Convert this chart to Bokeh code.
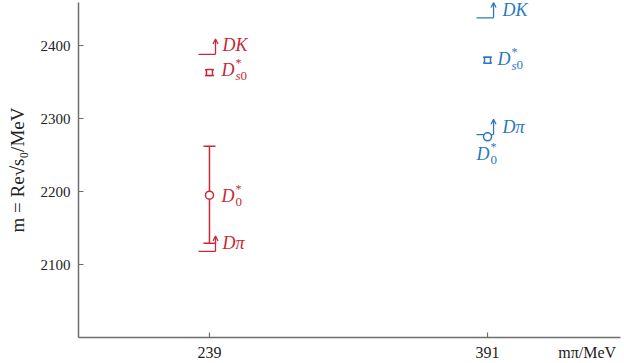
from bokeh.plotting import figure
from bokeh.models import (Range1d, FixedTicker, Whisker, TeeHead, Arrow,
                          OpenHead, ColumnDataSource)
from bokeh.core.properties import value
from bokeh.embed import file_html
from bokeh.resources import INLINE

# ---------------- data ----------------
m_pi = [239, 391]                      # MeV
colors = ["#c52a36", "#2b78be"]
d0_mass = [2195, 2275]
d0_lo = [2129, 2275]
d0_hi = [2262, 2275]
ds0_mass = [2363, 2380]
ds0_lo = [2359, 2376]
ds0_hi = [2367, 2384]
thr_Dpi = [2118, 2278]
thr_DK = [2388, 2438]
x_ticks = [239, 391]
y_ticks = [2100, 2200, 2300, 2400]
x_title = "mπ/MeV"
y_title = "m = Re√s₀/MeV"

FONT = "Liberation Serif"
AX = "#6e6e6e"
X0, X1 = 167.4, 463.7
Y0, Y1 = 2000, 2459
XTITLE_POS = 445.5        # where the x title sits along the bottom axis
TICK_LEN = 7.0            # inward tick length in data units

p = figure(width=624, height=363, x_range=Range1d(X0, X1),
           y_range=Range1d(Y0, Y1), output_backend="svg",
           toolbar_location=None, min_border_left=78, min_border_right=4,
           min_border_top=2, min_border_bottom=26)
p.outline_line_color = None
p.grid.grid_line_color = None
p.background_fill_color = "white"

for ax in (p.xaxis, p.yaxis):
    ax.axis_line_color = AX
    ax.axis_line_width = 1.5
    ax.major_tick_line_color = AX
    ax.major_tick_line_width = 1.2
    ax.major_tick_in = 5
    ax.major_tick_out = 0
    ax.minor_tick_line_color = None
    ax.major_label_text_font = FONT
    ax.major_label_text_font_size = "15px"
    ax.major_label_text_color = "#222222"

# x axis: tick labels plus the axis title placed at the right end
p.xaxis.ticker = FixedTicker(ticks=x_ticks + [XTITLE_POS])
p.xaxis.major_label_overrides = {XTITLE_POS: x_title}
p.xaxis.major_label_text_font_size = "16px"
p.xaxis.major_tick_line_color = None
p.xaxis.major_label_standoff = 6
p.segment(x0=x_ticks, y0=[Y0] * len(x_ticks), x1=x_ticks,
          y1=[Y0 + TICK_LEN] * len(x_ticks), line_color=AX, line_width=1.2)

p.yaxis.ticker = FixedTicker(ticks=y_ticks)
p.yaxis.major_label_standoff = 8
p.yaxis.axis_label = y_title
p.yaxis.axis_label_text_font = FONT
p.yaxis.axis_label_text_font_style = "normal"
p.yaxis.axis_label_text_font_size = "19px"
p.yaxis.axis_label_text_color = "#222222"
p.yaxis.axis_label_standoff = 10

# threshold marker geometry (in data units)
TL, TR, TH = 6.0, 3.3, 21.0


def txt(x, y, s, dx, dy, color, size="18px", style="italic"):
    p.text(x=[x], y=[y], text=[s], x_offset=dx, y_offset=dy,
           text_font=value(FONT), text_font_size=size, text_font_style=style,
           text_color=color, text_align="left", text_baseline="middle")


for i, x in enumerate(m_pi):
    c = colors[i]
    # thresholds
    for t in (thr_Dpi[i], thr_DK[i]):
        p.segment(x0=[x - TL], y0=[t], x1=[x + TR], y1=[t], line_color=c,
                  line_width=1.3)
        p.add_layout(Arrow(x_start=x + TR, y_start=t, x_end=x + TR,
                           y_end=t + TH, line_color=c, line_width=1.3,
                           end=OpenHead(size=5, line_color=c, line_width=1.3)))
    # error bars
    if d0_hi[i] > d0_lo[i]:
        src = ColumnDataSource(dict(x=[x], lo=[d0_lo[i]], hi=[d0_hi[i]]))
        p.add_layout(Whisker(base="x", lower="lo", upper="hi", source=src,
                             dimension="height", line_color=c, line_width=1.5,
                             upper_head=TeeHead(size=12, line_color=c, line_width=1.5),
                             lower_head=TeeHead(size=12, line_color=c, line_width=1.5)))
    src2 = ColumnDataSource(dict(x=[x], lo=[ds0_lo[i]], hi=[ds0_hi[i]]))
    p.add_layout(Whisker(base="x", lower="lo", upper="hi", source=src2,
                         dimension="height", line_color=c, line_width=1.5,
                         upper_head=TeeHead(size=9, line_color=c, line_width=1.5),
                         lower_head=TeeHead(size=9, line_color=c, line_width=1.5)))
    p.scatter(x=[x], y=[ds0_mass[i]], size=6, marker="square",
              fill_color="white", line_color=c, line_width=1.5)
    p.scatter(x=[x], y=[d0_mass[i]], size=8, marker="circle",
              fill_color="white", line_color=c, line_width=1.5)

# labels (red, 239 MeV)
x0, c0 = m_pi[0], colors[0]
txt(x0, thr_DK[0], "DK", 13, -9, c0)
txt(x0, thr_Dpi[0], "Dπ", 13, -8, c0)
txt(x0, ds0_mass[0], "D", 12, -3, c0)
txt(x0, ds0_mass[0], "*", 26, -10, c0, "12px", "normal")
txt(x0, ds0_mass[0], "s", 26, 3, c0, "13px", "italic")
txt(x0, ds0_mass[0], "0", 31, 3, c0, "13px", "normal")
txt(x0, d0_mass[0], "D", 12, 1, c0)
txt(x0, d0_mass[0], "*", 26, -6, c0, "12px", "normal")
txt(x0, d0_mass[0], "0", 26, 7, c0, "13px", "normal")

# labels (blue, 391 MeV)
x1, c1 = m_pi[1], colors[1]
txt(x1, thr_DK[1], "DK", 15, -8, c1)
txt(x1, thr_Dpi[1], "Dπ", 15, -8, c1)
txt(x1, ds0_mass[1], "D", 10, -1, c1)
txt(x1, ds0_mass[1], "*", 24, -8, c1, "12px", "normal")
txt(x1, ds0_mass[1], "s", 24, 5, c1, "13px", "italic")
txt(x1, ds0_mass[1], "0", 29, 5, c1, "13px", "normal")
txt(x1, d0_mass[1], "D", -11, 17, c1)
txt(x1, d0_mass[1], "*", 3, 10, c1, "12px", "normal")
txt(x1, d0_mass[1], "0", 3, 23, c1, "13px", "normal")

open("out.html", "w").write(file_html(p, INLINE))
